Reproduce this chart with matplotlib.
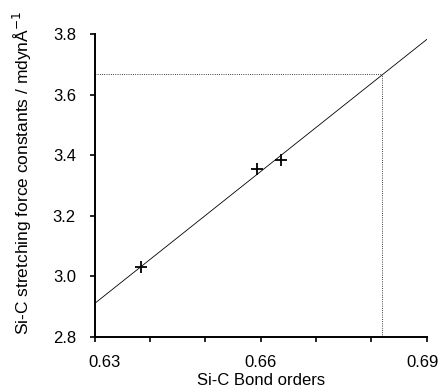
import matplotlib.pyplot as plt
import matplotlib.transforms as mtransforms
import numpy as np

plt.rcParams['font.family'] = ['Liberation Sans', 'DejaVu Sans']

# measured points
bond_orders = [0.6384, 0.6593, 0.6636]
force_consts = [3.03, 3.354, 3.383]

fit_x = [0.63, 0.69]
fit_y = [2.910, 3.783]

# read-off point marked by the dotted guides
guide_x = 0.682
guide_y = 3.67

fig = plt.figure(figsize=(4.41, 3.92), dpi=100)
ax = fig.add_axes([0.2147, 0.141, 0.753, 0.7715])

ax.plot(fit_x, fit_y, color='black', lw=0.6)
ax.plot([0.63, guide_x], [guide_y, guide_y], color='black', lw=0.6, ls=':')
ax.plot([guide_x, guide_x], [2.8, guide_y], color='black', lw=0.6, ls=':')
ax.plot(bond_orders, force_consts, ls='none', marker='+', ms=8, mew=1.3, color='black')

ax.set_xlim(0.63, 0.69)
ax.set_ylim(2.8, 3.8)
ax.set_xticks([0.63, 0.66, 0.69])
ax.set_xticklabels(['0.63', '0.66', '0.69'])
ax.set_xticks(np.arange(0.63, 0.6901, 0.01), minor=True)
ax.set_yticks([2.8, 3.0, 3.2, 3.4, 3.6, 3.8])
ax.set_yticklabels(['2.8', '3.0', '3.2', '3.4', '3.6', '3.8'])

for s in ['top', 'right']:
    ax.spines[s].set_visible(False)
for s in ['left', 'bottom']:
    ax.spines[s].set_linewidth(1.4)

ax.tick_params(which='both', direction='out', width=1.2, labelsize=12, length=3.5, pad=10)

# end labels sit a bit inside in the original
shifts = [7, 0, -3]
for lab, dx in zip(ax.get_xticklabels(), shifts):
    lab.set_transform(lab.get_transform() +
                      mtransforms.ScaledTranslation(dx / 72, 0, fig.dpi_scale_trans))

ax.set_xlabel('Si-C Bond orders', fontsize=12, labelpad=2)
ax.set_ylabel('Si-C stretching force constants / mdynÅ$^{-1}$', fontsize=12.5)
ax.yaxis.set_label_coords(-0.183, 0.543)

fig.savefig('out.png', dpi=100)
